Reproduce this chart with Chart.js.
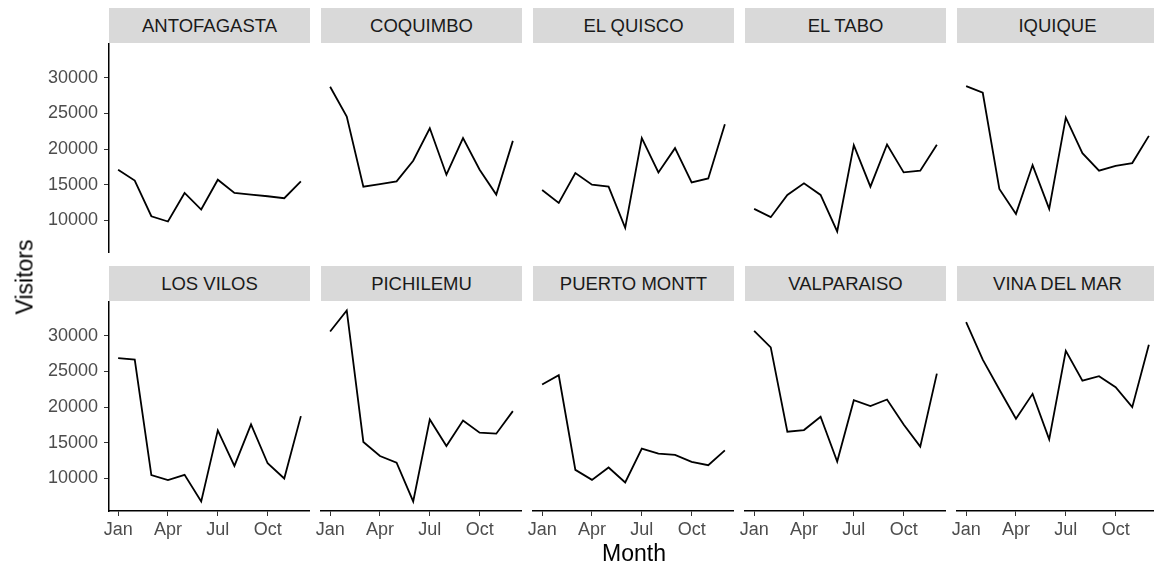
<!DOCTYPE html>
<html>
<head>
<meta charset="utf-8">
<script src="https://cdn.jsdelivr.net/npm/chart.js@4.4.1/dist/chart.umd.min.js"></script>
<style>
    html, body { margin: 0; padding: 0; background: #fff; overflow: hidden; }
    body { width: 1154px; height: 569px; position: relative; font-family: "Liberation Sans", Arial, sans-serif; }
    canvas { position: absolute; }
    .strip {
        position: absolute; background: #d9d9d9; color: #1a1a1a;
        font-size: 18.5px; text-align: center; height: 35px; line-height: 35px;
    }
    .title { position: absolute; color: #000; font-size: 23px; white-space: nowrap; }
</style>
</head>
<body>
<script>
// Data (monthly visitors per city)
const months = ['Jan', 'Feb', 'Mar', 'Apr', 'May', 'Jun', 'Jul', 'Aug', 'Sep', 'Oct', 'Nov', 'Dec'];
const cities = ['ANTOFAGASTA', 'COQUIMBO', 'EL QUISCO', 'EL TABO', 'IQUIQUE',
                'LOS VILOS', 'PICHILEMU', 'PUERTO MONTT', 'VALPARAISO', 'VINA DEL MAR'];

const antofagasta = [17100, 15600, 10600, 9860, 13860, 11540, 15720, 13860, 13630, 13400, 13120, 15490];
const coquimbo    = [28740, 24560, 14740, 15100, 15490, 18370, 22930, 16420, 21540, 17120, 13630, 21160];
const elQuisco    = [14280, 12470, 16650, 15020, 14740, 8980, 21540, 16740, 20140, 15350, 15900, 23490];
const elTabo      = [11630, 10470, 13580, 15210, 13580, 8470, 20560, 14740, 20650, 16740, 16980, 20600];
const iquique     = [28840, 27900, 14420, 10930, 17770, 11630, 24420, 19440, 16980, 17670, 18050, 21860];
const losVilos    = [26880, 26650, 10470, 9770, 10510, 6790, 16740, 11770, 17580, 12140, 10000, 18740];
const pichilemu   = [30600, 33540, 15120, 13160, 12230, 6790, 18280, 14560, 18140, 16420, 16280, 19440];
const puertoMontt = [23160, 24470, 11210, 9810, 11540, 9440, 14190, 13490, 13300, 12330, 11860, 13950];
const valparaiso  = [30700, 28370, 16560, 16790, 18650, 12370, 20980, 20140, 21070, 17580, 14470, 24700];
const vinaDelMar  = [31900, 26650, 22470, 18370, 21860, 15490, 27900, 23720, 24330, 22790, 20000, 28740];

const series = [antofagasta, coquimbo, elQuisco, elTabo, iquique,
                losVilos, pichilemu, puertoMontt, valparaiso, vinaDelMar];

// Tick labels
const yTicks = [10000, 15000, 20000, 25000, 30000];
const xTicks = ['Jan', 'Apr', 'Jul', 'Oct'];

// Layout of the facet grid
const PLOT_LEFT = 109, COL_STEP = 212, PLOT_W = 201, PLOT_H = 210;
const ROW_TOP = [43, 301];
const Y_AXIS_W = 109, X_AXIS_H = 30;
const LEFT_ROOM = 10; // room so the "Jan" label is not cut off
const FONT = '"Liberation Sans", Arial, sans-serif';

function makePanel(index) {
    const row = Math.floor(index / 5);
    const col = index % 5;
    const plotLeft = PLOT_LEFT + COL_STEP * col;
    const plotTop = ROW_TOP[row];
    const showY = col === 0;
    const showX = row === 1;

    // strip label above the panel
    const strip = document.createElement('div');
    strip.className = 'strip';
    strip.style.left = plotLeft + 'px';
    strip.style.top = (plotTop - 35) + 'px';
    strip.style.width = PLOT_W + 'px';
    strip.textContent = cities[index];
    document.body.appendChild(strip);

    const canvas = document.createElement('canvas');
    const extra = showY ? Y_AXIS_W : LEFT_ROOM;
    canvas.width = PLOT_W + extra;
    canvas.height = showX ? PLOT_H + X_AXIS_H : PLOT_H;
    canvas.style.left = (plotLeft - extra) + 'px';
    canvas.style.top = plotTop + 'px';
    document.body.appendChild(canvas);

    const points = series[index].map((v, i) => ({ x: i + 1, y: v }));

    new Chart(canvas.getContext('2d'), {
        type: 'line',
        data: {
            datasets: [{
                data: points,
                borderColor: '#000',
                borderWidth: 1.8,
                pointRadius: 0,
                tension: 0,
                fill: false
            }]
        },
        options: {
            responsive: false,
            animation: false,
            devicePixelRatio: 1,
            layout: { padding: { left: showY ? 0 : LEFT_ROOM, right: 0, top: 0, bottom: 0 } },
            plugins: { legend: { display: false }, tooltip: { enabled: false } },
            scales: {
                x: {
                    type: 'linear',
                    display: showX,
                    min: 0.45,
                    max: 12.55,
                    afterBuildTicks: s => { s.ticks = xTicks.map(m => ({ value: months.indexOf(m) + 1 })); },
                    afterFit: s => { s.height = showX ? X_AXIS_H : 0; s.paddingLeft = 0; s.paddingRight = 0; },
                    grid: { drawOnChartArea: false, drawTicks: true, tickLength: 5, color: '#333' },
                    border: { display: true, color: '#000', width: 1.5 },
                    ticks: {
                        autoSkip: false, maxRotation: 0, padding: 3,
                        color: '#4d4d4d', font: { family: FONT, size: 18 },
                        callback: v => months[v - 1]
                    }
                },
                y: {
                    display: showY,
                    min: 5450,
                    max: 34870,
                    afterBuildTicks: s => { s.ticks = yTicks.map(v => ({ value: v })); },
                    afterFit: s => { s.width = showY ? Y_AXIS_W : 0; s.paddingTop = 0; s.paddingBottom = 0; },
                    grid: { drawOnChartArea: false, drawTicks: true, tickLength: 5, color: '#333' },
                    border: { display: true, color: '#000', width: 1.5 },
                    ticks: {
                        padding: 6, color: '#4d4d4d', font: { family: FONT, size: 18 },
                        callback: v => String(v)
                    }
                }
            }
        }
    });
}

for (let i = 0; i < cities.length; i++) makePanel(i);

// Axis titles
const xTitle = document.createElement('div');
xTitle.className = 'title';
xTitle.textContent = 'Month';
xTitle.style.left = '634px';
xTitle.style.top = '553px';
xTitle.style.transform = 'translate(-50%, -50%)';
document.body.appendChild(xTitle);

const yTitle = document.createElement('div');
yTitle.className = 'title';
yTitle.textContent = 'Visitors';
yTitle.style.left = '25px';
yTitle.style.top = '277px';
yTitle.style.transform = 'translate(-50%, -50%) rotate(-90deg)';
document.body.appendChild(yTitle);
</script>
</body>
</html>
